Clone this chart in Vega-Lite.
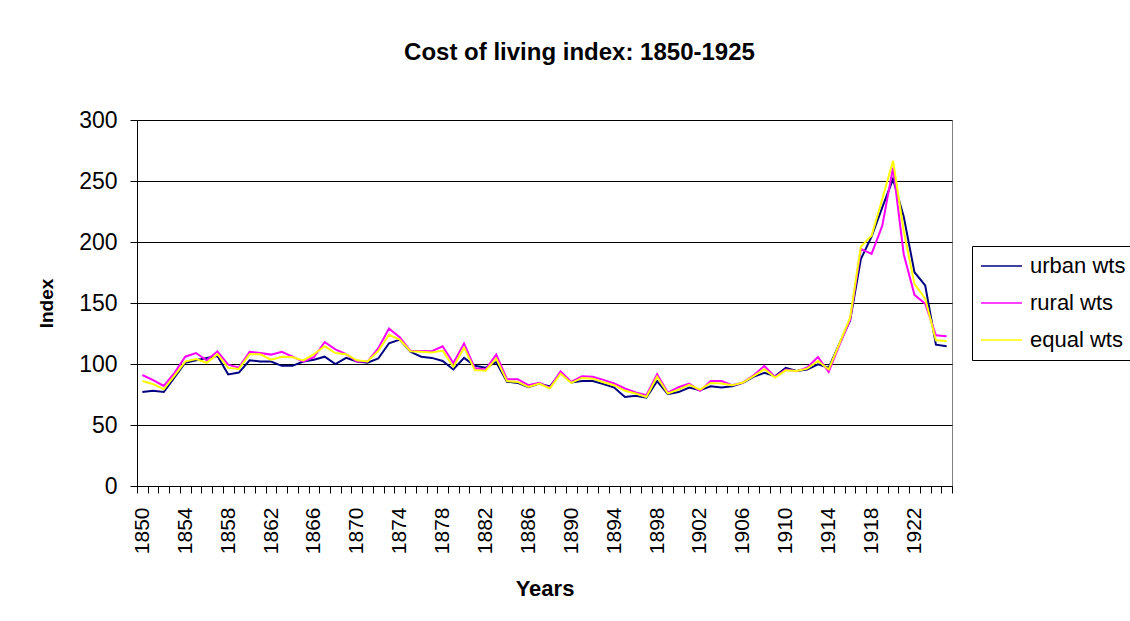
{
  "$schema": "https://vega.github.io/schema/vega-lite/v6.json",
  "width": 815,
  "height": 366,
  "autosize": "none",
  "padding": {"left": 137, "top": 120, "right": 178, "bottom": 135},
  "background": "white",
  "title": {"text": "Cost of living index: 1850-1925", "fontSize": 24, "font": "Liberation Sans", "fontWeight": "bold", "color": "black", "anchor": "middle", "frame": "group", "dx": 35, "offset": 44},
  "data": {"values": [
    {"year": 1850, "urban wts": 77, "rural wts": 91, "equal wts": 86},
    {"year": 1851, "urban wts": 78, "rural wts": 86.7, "equal wts": 83.5},
    {"year": 1852, "urban wts": 77, "rural wts": 82, "equal wts": 79.3},
    {"year": 1853, "urban wts": 89, "rural wts": 92.7, "equal wts": 90.5},
    {"year": 1854, "urban wts": 101, "rural wts": 106, "equal wts": 102},
    {"year": 1855, "urban wts": 103, "rural wts": 109, "equal wts": 104},
    {"year": 1856, "urban wts": 105, "rural wts": 103, "equal wts": 101},
    {"year": 1857, "urban wts": 106.5, "rural wts": 110.4, "equal wts": 108},
    {"year": 1858, "urban wts": 91.5, "rural wts": 99.5, "equal wts": 96.8},
    {"year": 1859, "urban wts": 93, "rural wts": 97, "equal wts": 96},
    {"year": 1860, "urban wts": 103, "rural wts": 110, "equal wts": 108},
    {"year": 1861, "urban wts": 102, "rural wts": 109, "equal wts": 108},
    {"year": 1862, "urban wts": 102, "rural wts": 107.7, "equal wts": 103.5},
    {"year": 1863, "urban wts": 98.5, "rural wts": 110, "equal wts": 106},
    {"year": 1864, "urban wts": 98.5, "rural wts": 106, "equal wts": 105.5},
    {"year": 1865, "urban wts": 102, "rural wts": 102, "equal wts": 103},
    {"year": 1866, "urban wts": 103.5, "rural wts": 105.5, "equal wts": 108},
    {"year": 1867, "urban wts": 106, "rural wts": 118, "equal wts": 114.5},
    {"year": 1868, "urban wts": 100, "rural wts": 112, "equal wts": 109},
    {"year": 1869, "urban wts": 105, "rural wts": 108, "equal wts": 108},
    {"year": 1870, "urban wts": 102, "rural wts": 102, "equal wts": 103},
    {"year": 1871, "urban wts": 101, "rural wts": 102, "equal wts": 102},
    {"year": 1872, "urban wts": 104.5, "rural wts": 113, "equal wts": 110.7},
    {"year": 1873, "urban wts": 117, "rural wts": 129, "equal wts": 124},
    {"year": 1874, "urban wts": 120, "rural wts": 122, "equal wts": 120},
    {"year": 1875, "urban wts": 110, "rural wts": 110.7, "equal wts": 110.5},
    {"year": 1876, "urban wts": 106, "rural wts": 110.7, "equal wts": 110},
    {"year": 1877, "urban wts": 105, "rural wts": 110.5, "equal wts": 109.5},
    {"year": 1878, "urban wts": 102.5, "rural wts": 114.5, "equal wts": 111},
    {"year": 1879, "urban wts": 95.5, "rural wts": 100.8, "equal wts": 97.6},
    {"year": 1880, "urban wts": 105, "rural wts": 116.7, "equal wts": 113.4},
    {"year": 1881, "urban wts": 98.5, "rural wts": 96.5, "equal wts": 95},
    {"year": 1882, "urban wts": 97, "rural wts": 95.5, "equal wts": 94.5},
    {"year": 1883, "urban wts": 101.5, "rural wts": 107.7, "equal wts": 104.4},
    {"year": 1884, "urban wts": 85.5, "rural wts": 87.5, "equal wts": 86},
    {"year": 1885, "urban wts": 84.5, "rural wts": 87.5, "equal wts": 85.3},
    {"year": 1886, "urban wts": 81, "rural wts": 82.6, "equal wts": 81.2},
    {"year": 1887, "urban wts": 84, "rural wts": 84.5, "equal wts": 84},
    {"year": 1888, "urban wts": 81.5, "rural wts": 80.5, "equal wts": 80},
    {"year": 1889, "urban wts": 93, "rural wts": 94, "equal wts": 92},
    {"year": 1890, "urban wts": 84.8, "rural wts": 85.3, "equal wts": 84.5},
    {"year": 1891, "urban wts": 86, "rural wts": 90, "equal wts": 88.6},
    {"year": 1892, "urban wts": 86, "rural wts": 89.5, "equal wts": 88},
    {"year": 1893, "urban wts": 83.5, "rural wts": 87, "equal wts": 85},
    {"year": 1894, "urban wts": 80.7, "rural wts": 84, "equal wts": 82.6},
    {"year": 1895, "urban wts": 73, "rural wts": 79.9, "equal wts": 78},
    {"year": 1896, "urban wts": 74, "rural wts": 76.6, "equal wts": 75.8},
    {"year": 1897, "urban wts": 72.5, "rural wts": 74.5, "equal wts": 73},
    {"year": 1898, "urban wts": 86, "rural wts": 91.6, "equal wts": 89.5},
    {"year": 1899, "urban wts": 75.2, "rural wts": 76.6, "equal wts": 75.8},
    {"year": 1900, "urban wts": 77, "rural wts": 81, "equal wts": 79},
    {"year": 1901, "urban wts": 80.7, "rural wts": 84, "equal wts": 83},
    {"year": 1902, "urban wts": 78.5, "rural wts": 77.8, "equal wts": 79},
    {"year": 1903, "urban wts": 81.8, "rural wts": 86, "equal wts": 84.5},
    {"year": 1904, "urban wts": 80.7, "rural wts": 86, "equal wts": 84},
    {"year": 1905, "urban wts": 81.8, "rural wts": 82.6, "equal wts": 82.5},
    {"year": 1906, "urban wts": 84.5, "rural wts": 84.8, "equal wts": 84.8},
    {"year": 1907, "urban wts": 89.4, "rural wts": 90.8, "equal wts": 90},
    {"year": 1908, "urban wts": 92.7, "rural wts": 98.4, "equal wts": 95.7},
    {"year": 1909, "urban wts": 90, "rural wts": 89.4, "equal wts": 88.9},
    {"year": 1910, "urban wts": 96.8, "rural wts": 95.5, "equal wts": 94.8},
    {"year": 1911, "urban wts": 94.3, "rural wts": 94, "equal wts": 94.3},
    {"year": 1912, "urban wts": 95.5, "rural wts": 97.2, "equal wts": 96.2},
    {"year": 1913, "urban wts": 99.8, "rural wts": 105.8, "equal wts": 102.5},
    {"year": 1914, "urban wts": 97, "rural wts": 93.5, "equal wts": 95.5},
    {"year": 1915, "urban wts": 116.7, "rural wts": 115.5, "equal wts": 116.7},
    {"year": 1916, "urban wts": 135.7, "rural wts": 136, "equal wts": 138},
    {"year": 1917, "urban wts": 186, "rural wts": 194.3, "equal wts": 196.2},
    {"year": 1918, "urban wts": 204.4, "rural wts": 190.2, "equal wts": 205.2},
    {"year": 1919, "urban wts": 228.4, "rural wts": 213.4, "equal wts": 235.2},
    {"year": 1920, "urban wts": 251.6, "rural wts": 261, "equal wts": 266.6},
    {"year": 1921, "urban wts": 220.8, "rural wts": 190, "equal wts": 209},
    {"year": 1922, "urban wts": 175.2, "rural wts": 156.7, "equal wts": 165.7},
    {"year": 1923, "urban wts": 164.4, "rural wts": 149.4, "equal wts": 153.5},
    {"year": 1924, "urban wts": 115.8, "rural wts": 123.5, "equal wts": 119.4},
    {"year": 1925, "urban wts": 114.5, "rural wts": 122.8, "equal wts": 118.8}
  ]},
  "transform": [{"fold": ["urban wts", "rural wts", "equal wts"], "as": ["series", "value"]}],
  "mark": {"type": "line", "strokeWidth": 2},
  "encoding": {
    "x": {
      "field": "year", "type": "ordinal",
      "scale": {"type": "band", "paddingInner": 0, "paddingOuter": 0},
      "axis": {
        "title": "Years", "titleFontSize": 22, "titleFontWeight": "bold", "titleColor": "black", "titlePadding": 25,
        "labelAngle": -90, "labelFontSize": 21, "labelColor": "black", "labelPadding": 14, "labelOverlap": false, "labelBound": false,
        "labelExpr": "(datum.value - 1850) % 4 == 0 ? datum.label : ''",
        "tickBand": "extent", "tickSize": 7, "tickColor": "black", "domainColor": "black", "grid": false
      }
    },
    "y": {
      "field": "value", "type": "quantitative",
      "scale": {"domain": [0, 300], "nice": false},
      "axis": {
        "title": "Index", "titleFontSize": 19, "titleFontWeight": "bold", "titleColor": "black", "titlePadding": 22,
        "values": [0, 50, 100, 150, 200, 250, 300],
        "labelFontSize": 23, "labelColor": "black", "labelPadding": 13,
        "tickSize": 7, "tickColor": "black", "domainColor": "black",
        "grid": true, "gridColor": "black", "gridOpacity": 1, "gridWidth": 1
      }
    },
    "color": {
      "field": "series", "type": "nominal",
      "scale": {"domain": ["urban wts", "rural wts", "equal wts"], "range": ["#000080", "#FF00FF", "#FFFF00"]},
      "legend": {
        "orient": "none", "legendX": 835, "legendY": 126, "title": null,
        "symbolType": "stroke", "symbolSize": 1681, "symbolStrokeWidth": 1.5,
        "labelFontSize": 22, "labelColor": "black", "labelOffset": 7, "labelLimit": 300,
        "strokeColor": "black", "fillColor": "white", "padding": 8,
        "clipHeight": 24, "rowPadding": 13
      }
    }
  },
  "config": {"font": "Liberation Sans", "view": {"stroke": "#808080", "strokeWidth": 1}}
}
